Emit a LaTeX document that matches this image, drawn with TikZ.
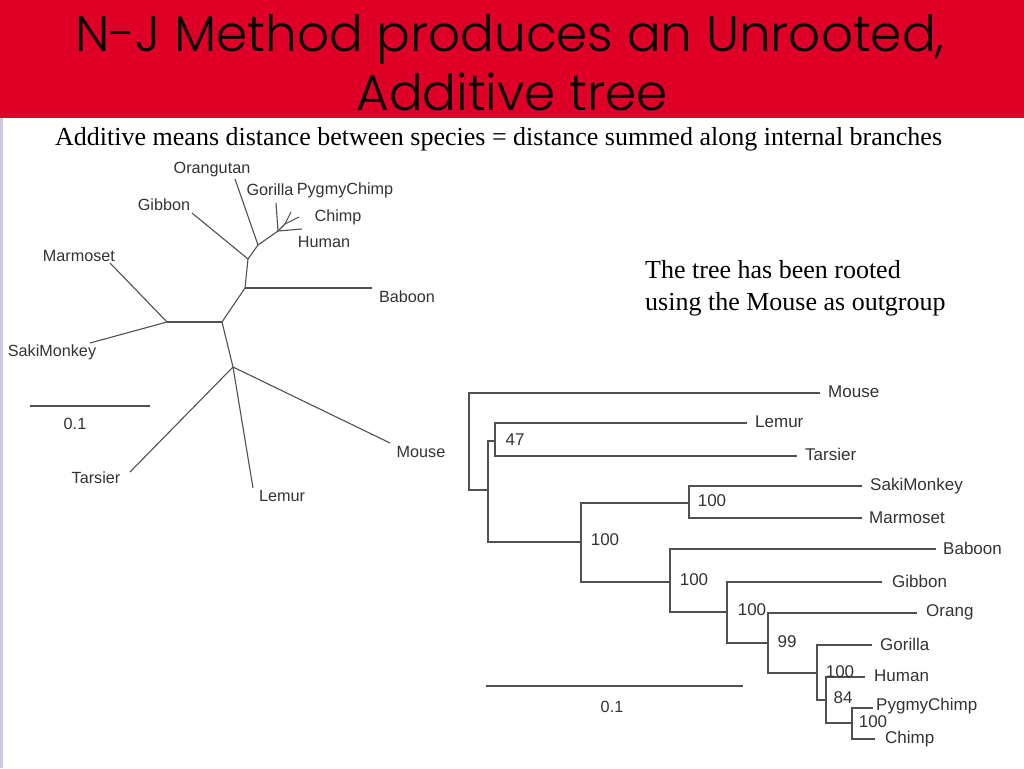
\documentclass[tikz,border=0pt]{standalone}
\usepackage{fontspec}
\setmainfont{Liberation Serif}
\newfontfamily\titlefont{Poppins Light}
\newfontfamily\labfont{Liberation Sans}
\definecolor{hdrred}{RGB}{222,0,38}
\definecolor{branch}{RGB}{80,80,80}
\definecolor{edge}{RGB}{200,200,225}
\tikzset{
  br/.style={draw=branch, line width=1.1pt},
  lab/.style={font=\labfont\fontsize{16.2}{18}\selectfont, inner sep=0pt, text=black!80},
  rlab/.style={font=\labfont\fontsize{17}{19}\selectfont, inner sep=0pt, text=black!80, anchor=west},
  boot/.style={font=\labfont\fontsize{17}{19}\selectfont, inner sep=0pt, text=black!80},
  ttl/.style={font=\titlefont\fontsize{50}{54}\selectfont, inner sep=0pt, anchor=base},
  serif/.style={font=\fontsize{26}{32}\selectfont, inner sep=0pt},
}
\begin{document}
\begin{tikzpicture}[x=1pt,y=-1pt]
\useasboundingbox (0,0) rectangle (1024,768);
\fill[white] (0,0) rectangle (1024,768);
\fill[hdrred] (0,0) rectangle (1024,118);
\fill[edge] (0,118) rectangle (3,768);
\node[ttl] (t1) at (510,52) {N-J Method produces an Unrooted,};
\node[ttl] (t2) at (512,110) {Additive tree};
\node[serif, anchor=base west] (sub) at (55,145) {Additive means distance between species = distance summed along internal branches};
\node[serif, anchor=north west, align=left] (note) at (645,260) {The tree has been rooted\\using the Mouse as outgroup};

% ---------- unrooted tree ----------
\coordinate (nA) at (248,259);
\coordinate (nB) at (258,245);
\coordinate (nC) at (278,231);
\coordinate (nP) at (285,224);
\coordinate (nD) at (245,288);
\coordinate (nE) at (222,322);
\coordinate (nF) at (167,322);
\coordinate (nG) at (233,367);
\coordinate (uGib) at (192,213);
\coordinate (uOra) at (235,179);
\coordinate (uGor) at (276,203);
\coordinate (uHum) at (302,229);
\coordinate (uPyg) at (291,212);
\coordinate (uChi) at (299,217);
\coordinate (uBab) at (372,288);
\coordinate (uMar) at (110,263);
\coordinate (uSak) at (90,343);
\coordinate (uTar) at (130,472);
\coordinate (uLem) at (253,488);
\coordinate (uMou) at (390,443);
\draw[br] (uGib) -- (nA) -- (nB) -- (nC) -- (nP);
\draw[br] (uOra) -- (nB);
\draw[br] (uGor) -- (nC);
\draw[br] (nC) -- (uHum);
\draw[br] (nP) -- (uPyg);
\draw[br] (nP) -- (uChi);
\draw[br] (nA) -- (nD) -- (nE);
\draw[br] (nD) -- (uBab);
\draw[draw=branch, line width=2.2pt] (nF) -- (nE);
\draw[br] (uMar) -- (nF) -- (uSak);
\draw[br] (nE) -- (nG);
\draw[br] (nG) -- (uTar);
\draw[br] (nG) -- (uLem);
\draw[br] (nG) -- (uMou);
\node[lab] (Lora) at (212,170) {Orangutan};
\node[lab] (Lgor) at (270,190) {Gorilla};
\node[lab] (Lpyg) at (345,190) {PygmyChimp};
\node[lab] (Lchi) at (338,217) {Chimp};
\node[lab] (Lhum) at (324,242) {Human};
\node[lab] (Lgib) at (164,205) {Gibbon};
\node[lab] (Lmar) at (79,256) {Marmoset};
\node[lab] (Lbab) at (407,297) {Baboon};
\node[lab] (Lsak) at (52,352) {SakiMonkey};
\node[lab] (Ltar) at (96,478) {Tarsier};
\node[lab] (Llem) at (282,496) {Lemur};
\node[lab] (Lmou) at (421,452) {Mouse};
\coordinate (usb1) at (30,406);
\coordinate (usb2) at (150,406);
\draw[br] (usb1) -- (usb2);
\node[lab] (usbl) at (75,424) {0.1};

% ---------- rooted tree ----------
\coordinate (r0) at (469,440);
\coordinate (n1) at (488,490);
\coordinate (n2) at (495,441);
\coordinate (n3) at (581,542);
\coordinate (n4) at (689,503);
\coordinate (n5) at (670,582);
\coordinate (n6) at (727,612);
\coordinate (n7) at (768,643);
\coordinate (n8) at (817,673);
\coordinate (n9) at (826,700);
\coordinate (n10) at (852,723);
\coordinate (rMou) at (820,393);
\coordinate (rLem) at (747,423);
\coordinate (rTar) at (797,456);
\coordinate (rSak) at (862,486);
\coordinate (rMar) at (862,518);
\coordinate (rBab) at (936,549);
\coordinate (rGib) at (882,582);
\coordinate (rOra) at (917,613);
\coordinate (rGor) at (872,645);
\coordinate (rHum) at (865,677);
\coordinate (rPyg) at (873,708);
\coordinate (rChi) at (875,739);
\draw[br] (r0) |- (rMou);
\draw[br] (r0) |- (n1);
\draw[br] (n1) |- (n2);
\draw[br] (n1) |- (n3);
\draw[br] (n2) |- (rLem);
\draw[br] (n2) |- (rTar);
\draw[br] (n3) |- (n4);
\draw[br] (n3) |- (n5);
\draw[br] (n4) |- (rSak);
\draw[br] (n4) |- (rMar);
\draw[br, line width=1.8pt] (n5) |- (rBab);
\draw[br] (n5) |- (n6);
\draw[br] (n6) |- (rGib);
\draw[br] (n6) |- (n7);
\draw[br] (n7) |- (rOra);
\draw[br] (n7) |- (n8);
\draw[br] (n8) |- (rGor);
\draw[br] (n8) |- (n9);
\draw[br] (n9) |- (rHum);
\draw[br] (n9) |- (n10);
\draw[br] (n10) |- (rPyg);
\draw[br] (n10) |- (rChi);
\node[rlab] (RLmou) at (828,392) {Mouse};
\node[rlab] (RLlem) at (755,422) {Lemur};
\node[rlab] (RLtar) at (805,454) {Tarsier};
\node[rlab] (RLsak) at (870,486) {SakiMonkey};
\node[rlab] (RLmar) at (869,518) {Marmoset};
\node[rlab] (RLbab) at (943,548) {Baboon};
\node[rlab] (RLgib) at (892,581) {Gibbon};
\node[rlab] (RLora) at (926,612) {Orang};
\node[rlab] (RLgor) at (880,644) {Gorilla};
\node[rlab] (RLhum) at (874,676) {Human};
\node[rlab] (RLpyg) at (876,706) {PygmyChimp};
\node[rlab] (RLchi) at (885,739) {Chimp};
\node[boot] (b47) at (515,440) {47};
\node[boot] (b4) at (712,501) {100};
\node[boot] (b3) at (605,540) {100};
\node[boot] (b5) at (694,580) {100};
\node[boot] (b6) at (752,610) {100};
\node[boot] (b7) at (787,642) {99};
\node[boot] (b9) at (840,672) {100};
\node[boot] (b84) at (843,698) {84};
\node[boot] (b10) at (873,722) {100};
\coordinate (rsb1) at (486,686);
\coordinate (rsb2) at (743,686);
\draw[br] (rsb1) -- (rsb2);
\node[lab] (rsbl) at (612,707) {0.1};
\end{tikzpicture}
\end{document}
